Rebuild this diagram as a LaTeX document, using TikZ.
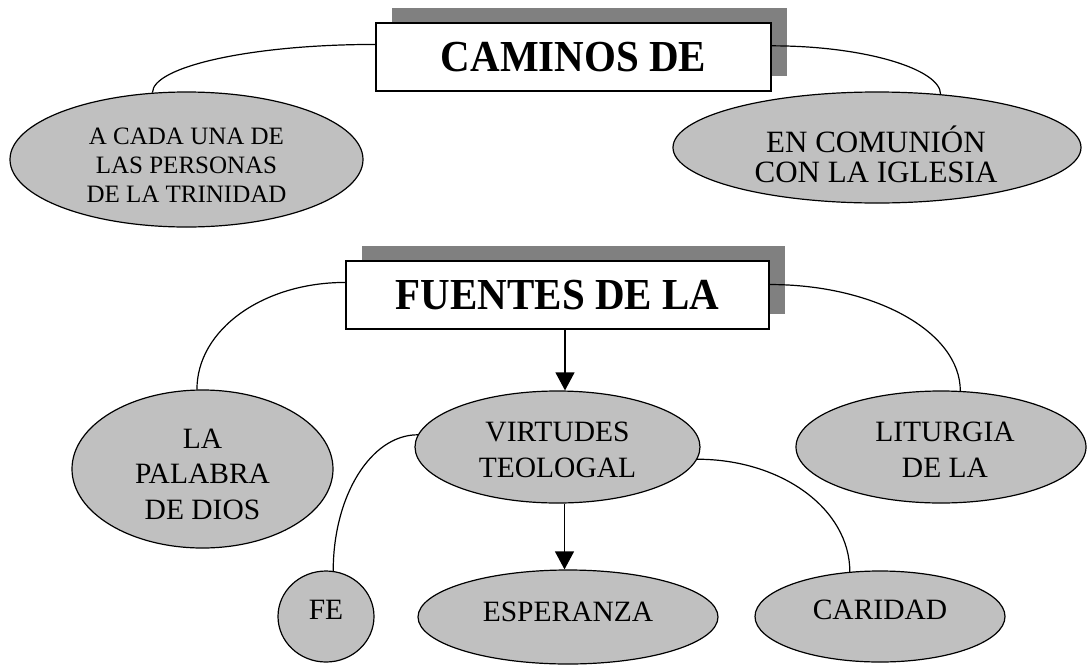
\documentclass[tikz,border=0pt]{standalone}
\usepackage{fontspec}
\setmainfont{Liberation Serif}
\usetikzlibrary{shapes.geometric,arrows.meta,calc,shadows}
\definecolor{ovalgray}{HTML}{C0C0C0}
\definecolor{shadegray}{HTML}{808080}
\begin{document}
\begin{tikzpicture}[x=1pt,y=-1pt,
  oval/.style={ellipse, draw=black, line width=1.2pt, fill=ovalgray, inner sep=0pt},
  titlebox/.style={rectangle, draw=black, line width=1.8pt, fill=white, inner sep=0pt,
    font=\fontsize{41}{41}\selectfont\bfseries,
    drop shadow={shadow xshift=16pt, shadow yshift=15pt, fill=shadegray, opacity=1}},
  txt/.style={inner sep=0pt, align=center, font=\fontsize{29.5}{35.5}\selectfont},
  link/.style={line width=1.2pt},
  arr/.style={line width=1.2pt, -{Triangle[width=19pt,length=18pt]}},
]
\useasboundingbox (0,0) rectangle (1087,667);

% title boxes
\node[titlebox, minimum width=395pt, minimum height=68pt] (b1) at (573.5,57) {\scalebox{1}[1.08]{CAMINOS DE}};
\node[titlebox, minimum width=423pt, minimum height=68pt] (b2) at (557.5,295) {\scalebox{1}[1.08]{FUENTES DE LA}};

% ovals
\node[oval, minimum width=353pt, minimum height=135pt] (e1) at (186.5,159.5) {};
\node[oval, minimum width=408pt, minimum height=111pt] (e2) at (877,147.5) {};
\node[oval, minimum width=261pt, minimum height=158pt] (e3) at (202.5,469) {};
\node[oval, minimum width=285pt, minimum height=112pt] (e4) at (557.5,447) {};
\node[oval, minimum width=290pt, minimum height=112pt] (e5) at (941,447) {};
\node[oval, minimum width=96pt, minimum height=91pt] (e6) at (326,616.5) {};
\node[oval, minimum width=300pt, minimum height=94pt] (e7) at (568,617) {};
\node[oval, minimum width=250pt, minimum height=91pt] (e8) at (880,616.5) {};

% texts
\node[txt, font=\fontsize{25}{29}\selectfont] (t1) at ($(e1)+(0,6)$) {A CADA UNA DE\\LAS PERSONAS\\DE LA TRINIDAD};
\node[txt, font=\fontsize{31}{29.5}\selectfont] (t2) at ($(e2)+(-1,10)$) {EN COMUNI\smash{Ó}N\\CON LA IGLESIA};
\node[txt] (t3) at ($(e3)+(0,5)$) {LA\\PALABRA\\DE DIOS};
\node[txt] (t4) at ($(e4)+(0,3)$) {VIRTUDES\\TEOLOGAL};
\node[txt] (t5) at ($(e5)+(4,3)$) {LITURGIA\\DE LA};
\node[txt] (t6) at ($(e6)+(0,-6.5)$) {FE};
\node[txt] (t7) at ($(e7)+(0,-5)$) {ESPERANZA};
\node[txt] (t8) at ($(e8)+(0,-6.5)$) {CARIDAD};

% curved connectors
\draw[link] ($(b1.north west)!0.32!(b1.south west)$) .. controls +(-124,0) and +(0,-26) .. (e1.117.5);
\draw[link] ($(b1.north east)!0.34!(b1.south east)$) .. controls +(93,0) and +(0,-25) .. (e2.40);
\draw[link] ($(b2.north west)!0.32!(b2.south west)$) .. controls +(-82,0) and +(0,-60) .. (e3.94);
\draw[link] ($(b2.north east)!0.35!(b2.south east)$) .. controls +(105,0) and +(0,-59) .. (e5.71);
\draw[link] (e4.175.5) .. controls +(-47,0) and +(0,-75) .. (e6.81);
\draw[link] (e4.355.5) .. controls +(84,0) and +(0,-63) .. (e8.124.2);

% arrows
\coordinate (a1) at ($(b2.south)+(7.5,0)$);
\draw[arr] (a1) -- (a1 |- e4.north);
\coordinate (a2) at ($(e4.south)+(7,0)$);
\draw[arr] (a2) -- (a2 |- e7.north);
\end{tikzpicture}
\end{document}
